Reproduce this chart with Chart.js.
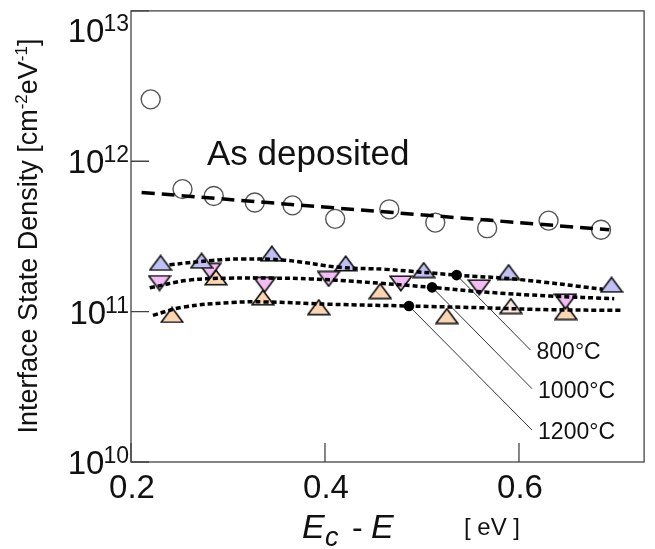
<!DOCTYPE html>
<html><head><meta charset="utf-8">
<script src="https://cdn.jsdelivr.net/npm/chart.js@4.4.1/dist/chart.umd.min.js"></script>
<style>html,body{margin:0;padding:0;background:#fff;}</style>
</head><body>
<canvas id="c" width="655" height="549"></canvas>
<script>
// ---- data ----
const xTicks = [0.2, 0.4, 0.6];
const yTickExps = [10, 11, 12, 13];

const depE = [0.2203,0.2531,0.2853,0.3276,0.3665,0.4105,0.4663,0.5137,0.5672,0.6305,0.6846];
const depD = [2.58e12,6.53e11,5.87e11,5.32e11,5.09e11,4.14e11,4.79e11,3.91e11,3.59e11,4.03e11,3.50e11];
const depFitE = [0.2109, 0.6931];
const depFitD = [6.20e11, 3.50e11];

const t800E = [0.2305,0.2728,0.3452,0.4213,0.5018,0.5893,0.6954];
const t800D = [2.11e11,2.18e11,2.43e11,2.09e11,1.89e11,1.83e11,1.51e11];
const t1000E = [0.2294,0.2812,0.3378,0.4038,0.4782,0.5591,0.6479];
const t1000D = [1.55e11,1.87e11,1.51e11,1.65e11,1.54e11,1.45e11,1.17e11];
const t1200E = [0.2423,0.2876,0.3360,0.3936,0.4569,0.5256,0.5916,0.6484];
const t1200D = [9.5e10,1.69e11,1.24e11,1.07e11,1.37e11,9.35e10,1.09e11,9.94e10];

const fit800E = [0.2396,0.2836,0.3140,0.3581,0.4155,0.4629,0.5357,0.5983,0.6863];
const fit800D = [2.05e11,2.19e11,2.24e11,2.20e11,1.97e11,1.91e11,1.75e11,1.64e11,1.41e11];
const fit1000E = [0.2193,0.2599,0.3005,0.3479,0.3851,0.4358,0.5104,0.5645,0.6322,0.6982];
const fit1000D = [1.44e11,1.62e11,1.67e11,1.67e11,1.65e11,1.58e11,1.45e11,1.35e11,1.27e11,1.22e11];
const fit1200E = [0.2226,0.2531,0.3039,0.3378,0.4054,0.4866,0.5645,0.6322,0.7049];
const fit1200D = [9.45e10,1.07e11,1.15e11,1.16e11,1.12e11,1.09e11,1.06e11,1.03e11,1.02e11];

// leader lines: [dot on curve, label end]
const labels = ['800°C', '1000°C', '1200°C'];
const leadE = [[0.5357, 0.6119], [0.5104, 0.6135], [0.4866, 0.6135]];
const leadD = [[1.75e11, 5.55e10], [1.45e11, 3.07e10], [1.09e11, 1.63e10]];
const labelD = [5.55e10, 3.07e10, 1.63e10];

// ---- helpers ----
const pts = (xs, ys) => xs.map((x, i) => ({x, y: ys[i]}));
const FONT = '"Liberation Sans", Arial, sans-serif';

function triCanvas(fill, down) {
  const w = 24, h = 17;
  const c = document.createElement('canvas');
  c.width = w; c.height = h;
  const g = c.getContext('2d');
  g.beginPath();
  if (!down) { g.moveTo(w/2, 1.2); g.lineTo(w-1.2, h-1.2); g.lineTo(1.2, h-1.2); }
  else { g.moveTo(w/2, h-1.2); g.lineTo(w-1.2, 1.2); g.lineTo(1.2, 1.2); }
  g.closePath();
  g.fillStyle = fill; g.fill();
  g.lineWidth = 1.6; g.strokeStyle = '#111'; g.lineJoin = 'miter'; g.stroke();
  return c;
}
const triBlue = triCanvas('#c0c0f4', false);
const triPink = triCanvas('#f4bcf4', true);
const triOrange = triCanvas('#fcd6b2', false);
const triPale = triCanvas('#fde8dc', false);

function lineDs(data, dash) {
  return {type: 'line', data, borderColor: '#000', borderWidth: 3.5, borderDash: dash,
    pointRadius: 0, tension: 0.4, fill: false, order: 0};
}

const datasets = [
  {type: 'scatter', data: pts(depE, depD), pointStyle: 'circle', pointRadius: 9.5,
   backgroundColor: '#fff', borderColor: '#555', borderWidth: 1.4, order: 2},
  {type: 'scatter', data: pts(t800E, t800D), pointStyle: triBlue, order: 2},
  {type: 'scatter', data: pts(t1000E, t1000D), pointStyle: triPink, order: 2},
  {type: 'scatter', data: pts(t1200E, t1200D),
   pointStyle: t1200E.map((e, i) => i === 6 ? triPale : triOrange), order: 2},
  lineDs(pts(depFitE, depFitD), [13, 7]),
  lineDs(pts(fit800E, fit800D), [5, 3]),
  lineDs(pts(fit1000E, fit1000D), [5, 3]),
  lineDs(pts(fit1200E, fit1200D), [5, 3]),
];
leadE.forEach((xs, i) => {
  datasets.push({type: 'line', data: pts(xs, leadD[i]), borderColor: '#333', borderWidth: 1,
    pointRadius: [5.3, 0], pointBackgroundColor: '#000', pointBorderWidth: 0, tension: 0, order: 0});
});

function drawRich(ctx, segs, x, y, align) {
  let total = 0;
  segs.forEach(s => { ctx.font = s.f; total += ctx.measureText(s.t).width; });
  let cx = align === 'center' ? x - total/2 : (align === 'right' ? x - total : x);
  segs.forEach(s => {
    ctx.font = s.f;
    ctx.fillText(s.t, cx, y + (s.dy || 0));
    cx += ctx.measureText(s.t).width;
  });
}

const decor = {
  id: 'decor',
  afterDraw(chart) {
    const {ctx, chartArea: a, scales: {x, y}} = chart;
    ctx.save();
    // frame
    ctx.strokeStyle = '#444'; ctx.lineWidth = 1.3;
    ctx.strokeRect(a.left, a.top, a.right - a.left, a.bottom - a.top);
    // inward ticks
    ctx.beginPath();
    yTickExps.forEach(e => {
      const py = y.getPixelForValue(Math.pow(10, e));
      ctx.moveTo(a.left, py); ctx.lineTo(a.left + 18, py);
    });
    xTicks.forEach(v => {
      const px = x.getPixelForValue(v);
      ctx.moveTo(px, a.bottom); ctx.lineTo(px, a.bottom - 19);
    });
    ctx.stroke();

    ctx.fillStyle = '#111';
    ctx.textBaseline = 'alphabetic';
    // y tick labels 10^n
    yTickExps.forEach(e => {
      const py = y.getPixelForValue(Math.pow(10, e));
      const supBase = Math.max(py + 1, a.top + 20);
      ctx.textAlign = 'left';
      ctx.font = '23px ' + FONT;
      const sw = ctx.measureText(String(e)).width;
      const right = a.left - 2;
      ctx.fillText(String(e), right - sw, supBase);
      ctx.font = '33px ' + FONT;
      const bw = ctx.measureText('10').width;
      ctx.fillText('10', right - sw - bw + 1, supBase + 11);
    });
    // x tick labels
    ctx.textAlign = 'center';
    ctx.font = '33px ' + FONT;
    xTicks.forEach(v => {
      ctx.fillText(v.toFixed(1), x.getPixelForValue(v) + 1, a.bottom + 36);
    });
    // x axis title
    ctx.textAlign = 'left';
    ctx.font = 'italic 34px ' + FONT;
    ctx.fillText('E', 302, 538);
    ctx.font = 'italic 27px ' + FONT;
    ctx.fillText('c', 325, 546);
    ctx.font = '32px ' + FONT;
    ctx.fillText('-', 352, 538);
    ctx.font = 'italic 34px ' + FONT;
    ctx.fillText('E', 371, 538);
    ctx.font = '24px ' + FONT;
    ctx.fillText('[ eV ]', 464, 535);
    // y axis title
    ctx.save();
    ctx.translate(37, 236);
    ctx.rotate(-Math.PI/2);
    drawRich(ctx, [
      {t: 'Interface State Density [cm', f: '27px ' + FONT},
      {t: '-2', f: '17px ' + FONT, dy: -10},
      {t: 'eV', f: '27px ' + FONT},
      {t: '-1', f: '17px ' + FONT, dy: -10},
      {t: ']', f: '27px ' + FONT},
    ], 0, 0, 'center');
    ctx.restore();
    // annotations
    ctx.textAlign = 'left';
    ctx.font = '35px ' + FONT;
    ctx.fillText('As deposited', 207, 165);
    ctx.font = '23px ' + FONT;
    labels.forEach((t, i) => {
      const px = x.getPixelForValue(leadE[i][1]) + 6;
      const py = y.getPixelForValue(labelD[i]) + 9;
      ctx.fillText(t, px, py);
    });
    ctx.restore();
  }
};

new Chart(document.getElementById('c'), {
  data: {datasets},
  options: {
    responsive: false, animation: false, devicePixelRatio: 1,
    layout: {padding: {left: 131, top: 8, right: 3, bottom: 87}},
    plugins: {legend: {display: false}, tooltip: {enabled: false}},
    scales: {
      x: {type: 'linear', min: 0.2, max: 0.729, display: false},
      y: {type: 'logarithmic', min: 1e10, max: 1e13, display: false}
    }
  },
  plugins: [decor]
});
</script>
</body></html>
